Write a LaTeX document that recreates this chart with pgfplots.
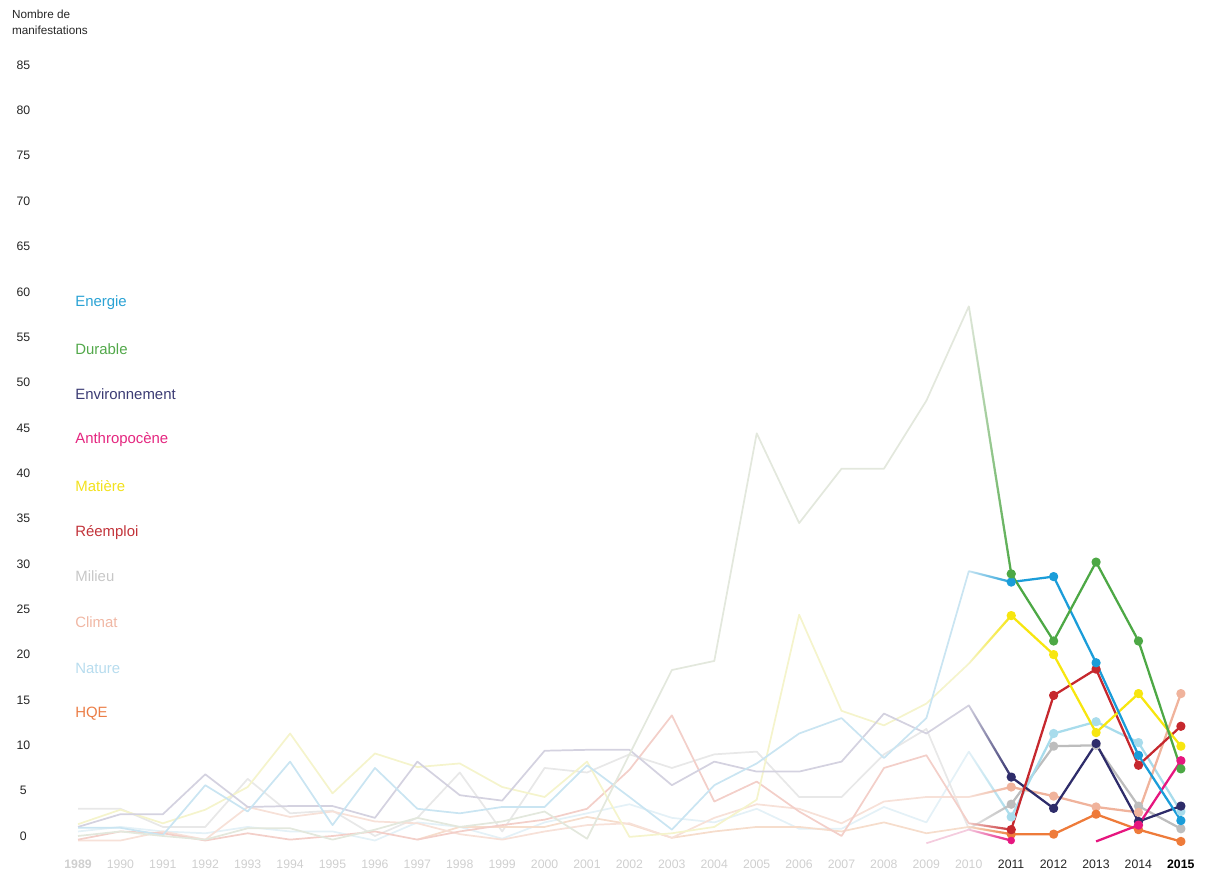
\documentclass[border=0pt]{standalone}
\usepackage{pgfplots}
\pgfplotsset{compat=1.18}
\usepackage{fontspec}
\setmainfont{Liberation Sans}
\usetikzlibrary{fadings}
\definecolor{cEn}{HTML}{1B9DD9}
\definecolor{cDu}{HTML}{4DA845}
\definecolor{cEv}{HTML}{2E2C6A}
\definecolor{cAn}{HTML}{E6167F}
\definecolor{cMa}{HTML}{F7E60F}
\definecolor{cRe}{HTML}{C6282E}
\definecolor{cMi}{HTML}{BDBDBD}
\definecolor{cCl}{HTML}{F0B39C}
\definecolor{cNa}{HTML}{A8DCEC}
\definecolor{cHQ}{HTML}{EE7B3A}
\definecolor{fEn}{HTML}{CAE5F2}
\definecolor{fDu}{HTML}{E3E8DD}
\definecolor{fEv}{HTML}{D4D2E0}
\definecolor{fAn}{HTML}{F4CCDE}
\definecolor{fMa}{HTML}{F5F4CC}
\definecolor{fRe}{HTML}{F3CFC9}
\definecolor{fMi}{HTML}{E8E8E8}
\definecolor{fCl}{HTML}{F7E1D8}
\definecolor{fNa}{HTML}{E4F1F7}
\definecolor{fHQ}{HTML}{F6DDCC}
\definecolor{lEn}{HTML}{2AA2D4}
\definecolor{lDu}{HTML}{52A84A}
\definecolor{lEv}{HTML}{3B3B74}
\definecolor{lAn}{HTML}{E4267F}
\definecolor{lMa}{HTML}{F2E11C}
\definecolor{lRe}{HTML}{C2333A}
\definecolor{lMi}{HTML}{C7C7C7}
\definecolor{lCl}{HTML}{F0B7A4}
\definecolor{lNa}{HTML}{B7DCEE}
\definecolor{lHQ}{HTML}{EB7D46}
\definecolor{yrl}{HTML}{CFCFCF}
\tikzfading[name=fadein, left color=transparent!100, middle color=transparent!92, right color=transparent!0]
\begin{document}
\begin{tikzpicture}
\useasboundingbox (0,0) rectangle (904.5pt,655.5pt);
\begin{axis}[
  at={(26.7pt,14.9pt)}, anchor=south west,
  scale only axis, width=871.7pt, height=612.2pt,
  xmin=1988, xmax=2015.4, ymin=-2, ymax=88,
  clip=false,
  axis line style={draw=none},
  major tick length=0pt,
  /pgf/number format/assume math mode=true,
  ytick={0,5,...,85},
  yticklabel style={anchor=center, xshift=-9.2pt, font=\fontsize{9.2}{11}\selectfont, text=black!85},
  xtick={1989,...,2015},
  xticklabels={{\bfseries 1989},1990,1991,1992,1993,1994,1995,1996,1997,1998,1999,2000,2001,2002,2003,2004,2005,2006,2007,2008,2009,2010,{\color{black!85}2011},{\color{black!85}2012},{\color{black!85}2013},{\color{black!85}2014},{\color{black}\bfseries 2015}},
  xticklabel style={font=\fontsize{9.2}{11}\selectfont, text=yrl, yshift=-1pt},
  faded/.style={line width=1.3pt, no marks, line join=round},
  strong/.style={line width=1.7pt, mark=*, mark size=2.6pt, line join=round},
  trans/.style={line width=1.7pt, no marks, path fading=fadein},
]
% ---- faded history 1989-2011 ----
\addplot[faded, fNa] coordinates {(1989,0.5)(1990,1.0)(1991,0.5)(1992,0.3)(1993,1.0)(1994,0.5)(1995,0.5)(1996,-0.5)(1997,1.5)(1998,1.0)(1999,-0.3)(2000,1.5)(2001,2.5)(2002,3.5)(2003,2.0)(2004,1.5)(2005,3.0)(2006,0.8)(2007,0.8)(2008,3.2)(2009,1.5)(2010,9.3)(2011,2.1)};
\addplot[faded, fMi] coordinates {(1989,3.0)(1990,3.0)(1991,1.0)(1992,1.0)(1993,6.3)(1994,2.5)(1995,2.8)(1996,0.0)(1997,2.0)(1998,7.0)(1999,0.5)(2000,7.5)(2001,7.0)(2002,9.0)(2003,7.5)(2004,9.0)(2005,9.3)(2006,4.3)(2007,4.3)(2008,9.0)(2009,11.8)(2010,0.8)(2011,3.5)};
\addplot[faded, fHQ] coordinates {(1997,-0.4)(1998,1.0)(1999,1.0)(2000,1.0)(2001,2.1)(2002,1.3)(2003,-0.2)(2004,0.5)(2005,1.0)(2006,1.0)(2007,0.5)(2008,1.5)(2009,0.3)(2010,1.0)(2011,0.2)};
\addplot[faded, fCl] coordinates {(1989,-0.5)(1990,-0.5)(1991,0.5)(1992,-0.4)(1993,3.2)(1994,2.1)(1995,2.7)(1996,1.6)(1997,1.4)(1998,0.2)(1999,-0.4)(2000,0.5)(2001,1.2)(2002,1.4)(2003,-0.2)(2004,2.0)(2005,3.5)(2006,3.0)(2007,1.4)(2008,3.8)(2009,4.3)(2010,4.3)(2011,5.4)};
\addplot[faded, fRe] coordinates {(1989,-0.4)(1990,0.5)(1991,0.3)(1992,-0.5)(1993,0.3)(1994,-0.4)(1995,0.0)(1996,0.5)(1997,-0.4)(1998,0.5)(1999,1.2)(2000,1.8)(2001,3.0)(2002,7.3)(2003,13.3)(2004,3.8)(2005,6.0)(2006,2.7)(2007,0.0)(2008,7.5)(2009,8.9)(2010,1.4)(2011,0.7)};
\addplot[faded, fAn] coordinates {(2009,-0.8)(2010,0.7)(2011,-0.5)};
\addplot[faded, fMa] coordinates {(1989,1.3)(1990,2.9)(1991,1.4)(1992,2.9)(1993,5.4)(1994,11.3)(1995,4.7)(1996,9.1)(1997,7.6)(1998,8.0)(1999,5.4)(2000,4.3)(2001,8.2)(2002,-0.1)(2003,0.3)(2004,1.0)(2005,4.0)(2006,24.4)(2007,13.8)(2008,12.2)(2009,14.6)(2010,19.0)(2011,24.3)};
\addplot[faded, fEv] coordinates {(1989,1.0)(1990,2.4)(1991,2.4)(1992,6.8)(1993,3.2)(1994,3.3)(1995,3.3)(1996,2.0)(1997,8.2)(1998,4.5)(1999,3.9)(2000,9.4)(2001,9.5)(2002,9.5)(2003,5.6)(2004,8.2)(2005,7.1)(2006,7.1)(2007,8.2)(2008,13.5)(2009,11.3)(2010,14.4)(2011,6.5)};
\addplot[faded, fEn] coordinates {(1989,0.9)(1990,0.9)(1991,0.1)(1992,5.6)(1993,2.7)(1994,8.2)(1995,1.2)(1996,7.5)(1997,3.0)(1998,2.5)(1999,3.2)(2000,3.2)(2001,7.8)(2002,4.3)(2003,0.7)(2004,5.6)(2005,8.0)(2006,11.3)(2007,13.0)(2008,8.6)(2009,13.0)(2010,29.2)(2011,28.0)};
\addplot[faded, fDu] coordinates {(1989,0.0)(1990,0.5)(1991,0.0)(1992,-0.4)(1993,0.85)(1994,0.85)(1995,-0.4)(1996,0.7)(1997,2.0)(1998,1.0)(1999,1.6)(2000,2.7)(2001,-0.3)(2002,9.0)(2003,18.3)(2004,19.3)(2005,44.4)(2006,34.5)(2007,40.5)(2008,40.5)(2009,48.0)(2010,58.4)(2011,28.9)};
% ---- transitions 2010-2011 ----
\addplot[trans, cNa] coordinates {(2010,9.3)(2011,2.1)};
\addplot[trans, cMi] coordinates {(2010,0.8)(2011,3.5)};
\addplot[trans, cHQ] coordinates {(2010,1.0)(2011,0.2)};
\addplot[trans, cCl] coordinates {(2010,4.3)(2011,5.4)};
\addplot[trans, cRe] coordinates {(2010,1.4)(2011,0.7)};
\addplot[trans, cAn] coordinates {(2010,0.7)(2011,-0.5)};
\addplot[trans, cMa] coordinates {(2010,19.0)(2011,24.3)};
\addplot[trans, cEv] coordinates {(2010,14.4)(2011,6.5)};
\addplot[trans, cEn] coordinates {(2010,29.2)(2011,28.0)};
\addplot[trans, cDu] coordinates {(2010,58.4)(2011,28.9)};
% ---- recent 2011-2015 ----
\addplot[strong, cMi] coordinates {(2011,3.5)(2012,9.9)(2013,10.0)(2014,3.3)(2015,0.8)};
\addplot[strong, cNa] coordinates {(2011,2.1)(2012,11.3)(2013,12.6)(2014,10.3)(2015,2.7)};
\addplot[strong, cCl] coordinates {(2011,5.4)(2012,4.4)(2013,3.2)(2014,2.6)(2015,15.7)};
\addplot[strong, cHQ] coordinates {(2011,0.2)(2012,0.2)(2013,2.4)(2014,0.7)(2015,-0.6)};
\addplot[strong, cEv] coordinates {(2011,6.5)(2012,3.05)(2013,10.2)(2014,1.6)(2015,3.3)};
\addplot[only marks, mark=*, mark size=2.6pt, cAn] coordinates {(2011,-0.5)};
\addplot[strong, cAn, mark indices={2,3}] coordinates {(2013,-0.6)(2014,1.2)(2015,8.3)};
\addplot[strong, cRe] coordinates {(2011,0.7)(2012,15.5)(2013,18.4)(2014,7.8)(2015,12.1)};
\addplot[strong, cMa] coordinates {(2011,24.3)(2012,20.0)(2013,11.4)(2014,15.7)(2015,9.9)};
\addplot[strong, cEn] coordinates {(2011,28.0)(2012,28.6)(2013,19.1)(2014,8.9)(2015,1.7)};
\addplot[strong, cDu] coordinates {(2011,28.9)(2012,21.5)(2013,30.2)(2014,21.5)(2015,7.4)};
% ---- legend as coloured text ----
\begin{scope}[every node/.style={anchor=west, inner sep=0pt, font=\fontsize{11.2}{13}\selectfont}]
\node[text=lEn] at (axis cs:1988.93,58.8) {Energie};
\node[text=lDu] at (axis cs:1988.93,53.7) {Durable};
\node[text=lEv] at (axis cs:1988.93,48.7) {Environnement};
\node[text=lAn] at (axis cs:1988.93,43.7) {Anthropocène};
\node[text=lMa] at (axis cs:1988.93,38.6) {Matière};
\node[text=lRe] at (axis cs:1988.93,33.5) {Réemploi};
\node[text=lMi] at (axis cs:1988.93,28.6) {Milieu};
\node[text=lCl] at (axis cs:1988.93,23.6) {Climat};
\node[text=lNa] at (axis cs:1988.93,18.5) {Nature};
\node[text=lHQ] at (axis cs:1988.93,13.5) {HQE};
\end{scope}
\node[anchor=north west, inner sep=0pt, align=left, font=\fontsize{8.8}{12}\selectfont, text=black!85] at (axis cs:1987.44,91.1) {Nombre de\\manifestations};
\end{axis}
\end{tikzpicture}
\end{document}
